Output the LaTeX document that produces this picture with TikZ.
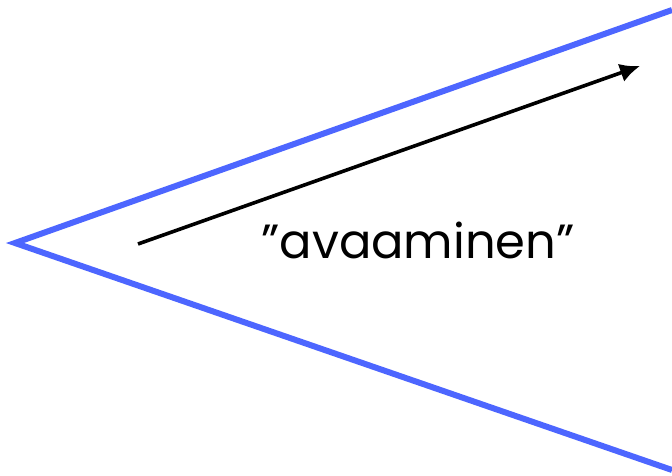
\documentclass[tikz,border=0pt]{standalone}
\usepackage{fontspec}
\setmainfont{Poppins}
\usetikzlibrary{arrows.meta,positioning}
\definecolor{KBlue}{RGB}{77,102,255}

\begin{document}
\begin{tikzpicture}[x=1pt,y=-1pt,
    wedge/.style={draw=KBlue, line width=6pt, line join=miter},
    push/.style={draw=black, line width=3.6pt, -{Latex[length=20pt,width=19pt]}}
  ]
  \useasboundingbox (0,0) rectangle (672,476);
  % the opening wedge
  \coordinate (top) at (672,10);
  \coordinate (apex) at (15,243);
  \coordinate (bottom) at (672,470);
  \draw[wedge] (top) -- (apex) -- (bottom);
  % direction of opening
  \coordinate (from) at (138,244);
  \coordinate (to) at (640,66);
  \draw[push] (from) -- (to);
  \node[
    font=\fontsize{48}{56}\selectfont,
    inner sep=0pt
  ] (label) at (418,240) {”avaaminen”};
\end{tikzpicture}
\end{document}
